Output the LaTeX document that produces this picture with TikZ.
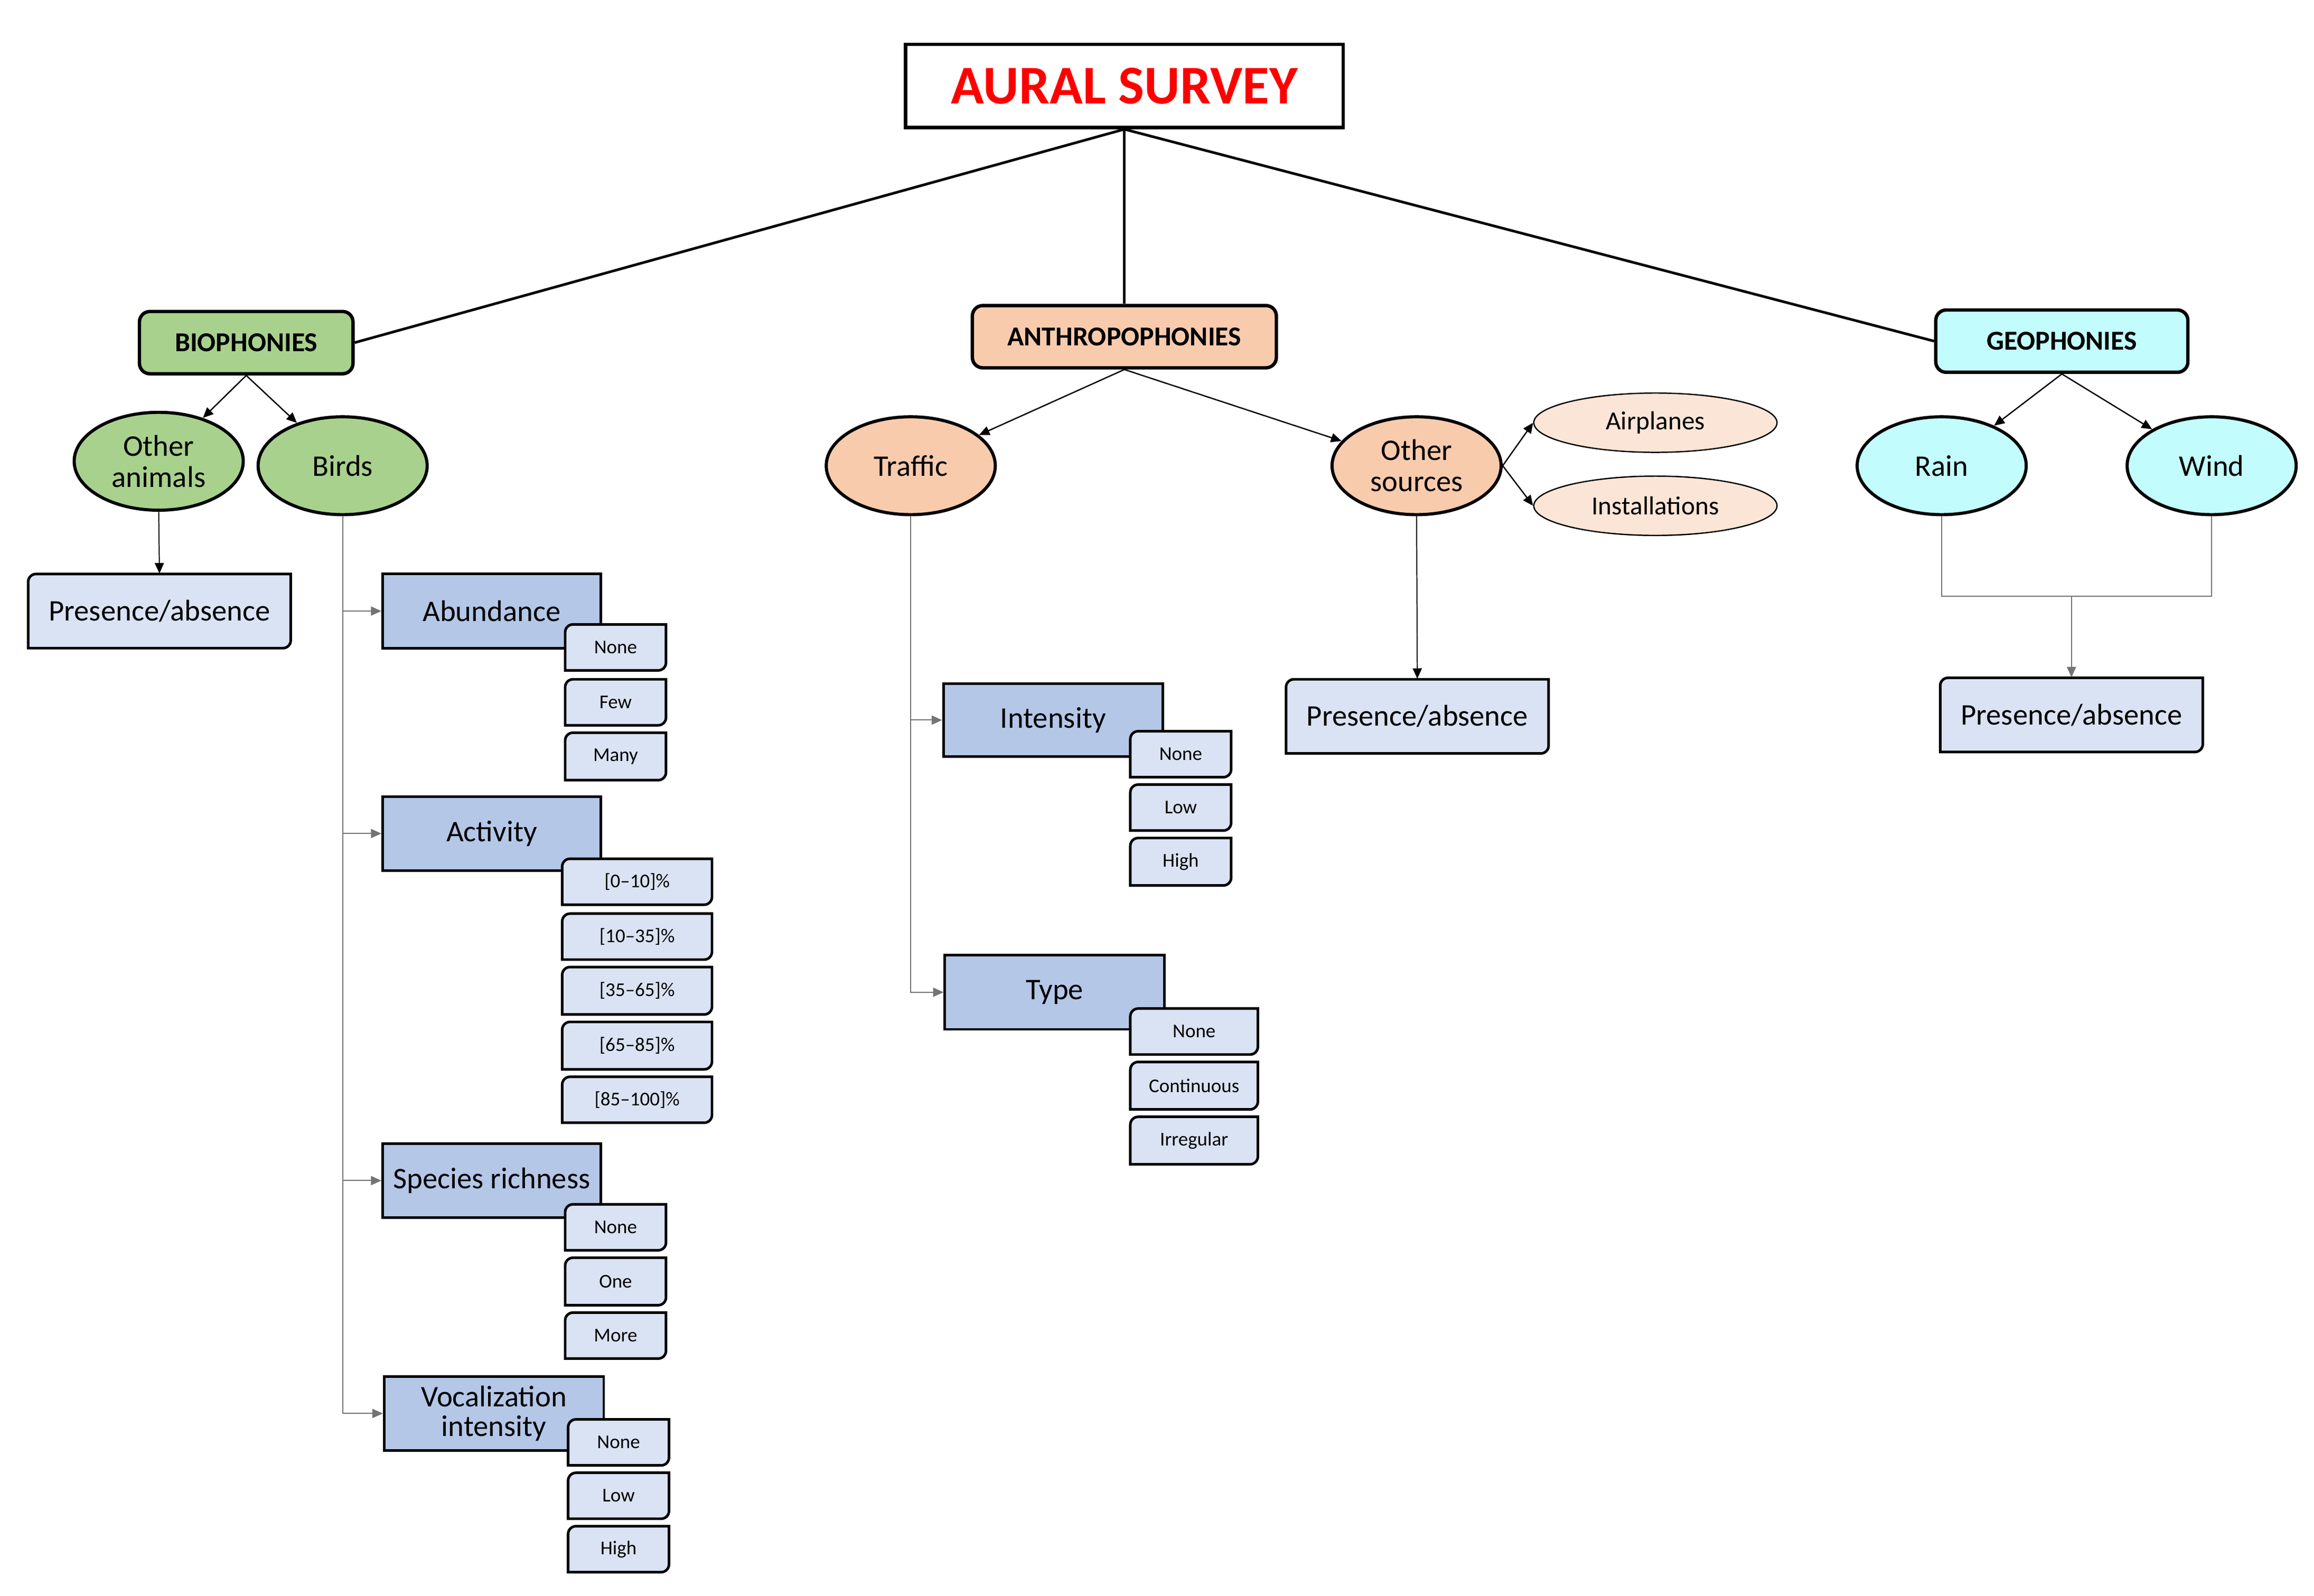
\documentclass[tikz,border=0pt]{standalone}
\usepackage{fontspec}
\setmainfont{Carlito}
\usetikzlibrary{arrows.meta,shapes.geometric}
\definecolor{grn}{HTML}{A9D18E}
\definecolor{pch}{HTML}{F8CBAD}
\definecolor{pchl}{HTML}{FBE5D6}
\definecolor{cyn}{HTML}{C2FCFC}
\definecolor{lbl}{HTML}{DAE3F3}
\definecolor{mbl}{HTML}{B4C7E7}
\newcommand\tbox[8]{%
 \pgfmathsetmacro\xm{(#2+#4)/2}\pgfmathsetmacro\ym{(#3+#5)/2}%
 \pgfmathsetmacro\wdd{(#4-#2)*0.02}\pgfmathsetmacro\htt{(#5-#3)*0.02}%
 \filldraw[fill=#6, line width=1pt] (#2,\ym) [rounded corners=3pt] |- (\xm,#3) [sharp corners] -| (#4,\ym) [rounded corners=3pt] |- (\xm,#5) [sharp corners] -| cycle;
 \node[font=#7, inner sep=0pt, minimum width=\wdd cm, minimum height=\htt cm] (#1) at (\xm,\ym) {#8};}
\newcommand\sqbox[6]{%
 \pgfmathsetmacro\xm{(#2+#4)/2}\pgfmathsetmacro\ym{(#3+#5)/2}%
 \pgfmathsetmacro\wdd{(#4-#2)*0.02}\pgfmathsetmacro\htt{(#5-#3)*0.02}%
 \node[draw, fill=mbl, line width=1pt, font=\fontsize{11.5}{13.5}\selectfont, align=center, inner sep=0pt, minimum width=\wdd cm, minimum height=\htt cm] (#1) at (\xm,\ym) {#6};}
\begin{document}
\begin{tikzpicture}[x=0.02cm,y=-0.02cm,
  hdr/.style={draw, line width=1.3pt, rounded corners=4pt, font=\fontsize{10.5}{12}\selectfont\bfseries, inner sep=0pt, minimum height=0.84cm},
  ell/.style={draw, ellipse, line width=1.2pt, inner sep=0pt, minimum width=2.28cm, minimum height=1.32cm, align=center, font=\fontsize{11.5}{14}\selectfont},
  sell/.style={draw, ellipse, line width=0.5pt, fill=pchl, inner sep=0pt, minimum width=3.28cm, minimum height=0.8cm, font=\fontsize{10}{12}\selectfont},
  big/.style={line width=1pt},
  arr/.style={-{Triangle[length=4pt,width=3.5pt]}, line width=0.5pt},
  tree/.style={-{Triangle[length=4pt,width=3.5pt]}, line width=0.4pt, draw=black!55}]
\useasboundingbox (0,0) rectangle (1560,1076);
% root
\node[draw, line width=1.3pt, minimum width=5.9cm, minimum height=1.12cm, text=red, font=\fontsize{21}{24}\selectfont\bfseries] (root) at (758,58) {AURAL SURVEY};
\node[hdr, fill=grn, minimum width=2.88cm] (bio) at (166,231) {BIOPHONIES};
\node[hdr, fill=pch, minimum width=4.1cm] (ant) at (758,227) {ANTHROPOPHONIES};
\node[hdr, fill=cyn, minimum width=3.4cm] (geo) at (1390,230) {GEOPHONIES};
\draw[big] (root.south) -- (bio.east);
\draw[big] (root.south) -- (ant.north);
\draw[big] (root.south) -- (geo.west);
% biophonies
\node[ell, fill=grn] (oth) at (107,311) {Other\\[-2pt]animals};
\node[ell, fill=grn] (birds) at (231,314) {Birds};
\draw[arr] (bio.south) -- (oth);
\draw[arr] (bio.south) -- (birds);
\tbox{pa1}{19}{387}{196}{437}{lbl}{\fontsize{11.5}{13.5}\selectfont}{Presence/absence}
\draw[tree, draw=black] (oth.south) -- (pa1.north);
\sqbox{abu}{258}{387}{405}{437}{Abundance}
\sqbox{act}{258}{537}{405}{587}{Activity}
\sqbox{spr}{258}{771}{405}{821}{Species richness}
\sqbox{voc}{259}{928}{407}{978}{Vocalization\\[-2pt]intensity}
\foreach \n in {abu,act,spr,voc} \draw[tree] (birds.south) |- (\n.west);
\tbox{a1}{381}{421}{449}{452}{lbl}{\fontsize{7.5}{9}\selectfont}{None}
\tbox{a2}{381}{458}{449}{489}{lbl}{\fontsize{7.5}{9}\selectfont}{Few}
\tbox{a3}{381}{494}{449}{526}{lbl}{\fontsize{7.5}{9}\selectfont}{Many}
\tbox{b1}{379}{579}{480}{610}{lbl}{\fontsize{7.5}{9}\selectfont}{[0–10]\%}
\tbox{b2}{379}{616}{480}{647}{lbl}{\fontsize{7.5}{9}\selectfont}{[10–35]\%}
\tbox{b3}{379}{652}{480}{684}{lbl}{\fontsize{7.5}{9}\selectfont}{[35–65]\%}
\tbox{b4}{379}{689}{480}{721}{lbl}{\fontsize{7.5}{9}\selectfont}{[65–85]\%}
\tbox{b5}{379}{726}{480}{757}{lbl}{\fontsize{7.5}{9}\selectfont}{[85–100]\%}
\tbox{c1}{381}{812}{449}{843}{lbl}{\fontsize{7.5}{9}\selectfont}{None}
\tbox{c2}{381}{848}{449}{880}{lbl}{\fontsize{7.5}{9}\selectfont}{One}
\tbox{c3}{381}{885}{449}{916}{lbl}{\fontsize{7.5}{9}\selectfont}{More}
\tbox{d1}{383}{957}{451}{988}{lbl}{\fontsize{7.5}{9}\selectfont}{None}
\tbox{d2}{383}{993}{451}{1024}{lbl}{\fontsize{7.5}{9}\selectfont}{Low}
\tbox{d3}{383}{1029}{451}{1060}{lbl}{\fontsize{7.5}{9}\selectfont}{High}
% anthropophonies
\node[ell, fill=pch] (tra) at (614,314) {Traffic};
\node[ell, fill=pch] (osr) at (955,314) {Other\\[-2pt]sources};
\draw[arr] (ant.south) -- (tra);
\draw[arr] (ant.south) -- (osr);
\node[sell] (air) at (1116,285) {Airplanes};
\node[sell] (ins) at (1116,341) {Installations};
\draw[arr] (osr.east) -- (air.west);
\draw[arr] (osr.east) -- (ins.west);
\tbox{pa2}{867}{458}{1044}{508}{lbl}{\fontsize{11.5}{13.5}\selectfont}{Presence/absence}
\draw[tree, draw=black] (osr.south) -- (pa2.north);
\sqbox{int}{636}{461}{784}{510}{Intensity}
\sqbox{typ}{637}{644}{785}{694}{Type}
\draw[tree] (tra.south) |- (int.west);
\draw[tree] (tra.south) |- (typ.west);
\tbox{e1}{762}{493}{830}{524}{lbl}{\fontsize{7.5}{9}\selectfont}{None}
\tbox{e2}{762}{529}{830}{560}{lbl}{\fontsize{7.5}{9}\selectfont}{Low}
\tbox{e3}{762}{565}{830}{597}{lbl}{\fontsize{7.5}{9}\selectfont}{High}
\tbox{f1}{762}{680}{848}{711}{lbl}{\fontsize{7.5}{9}\selectfont}{None}
\tbox{f2}{762}{716}{848}{748}{lbl}{\fontsize{7.5}{9}\selectfont}{Continuous}
\tbox{f3}{762}{753}{848}{785}{lbl}{\fontsize{7.5}{9}\selectfont}{Irregular}
% geophonies
\node[ell, fill=cyn] (rain) at (1309,314) {Rain};
\node[ell, fill=cyn] (wind) at (1491,314) {Wind};
\draw[arr] (geo.south) -- (rain);
\draw[arr] (geo.south) -- (wind);
\tbox{pa3}{1308}{457}{1485}{507}{lbl}{\fontsize{11.5}{13.5}\selectfont}{Presence/absence}
\coordinate (gm) at (1396.5,402);
\draw[line width=0.4pt, draw=black!55] (rain.south) |- (gm) -| (wind.south);
\draw[tree] (gm) -- (pa3.north);
\end{tikzpicture}
\end{document}
